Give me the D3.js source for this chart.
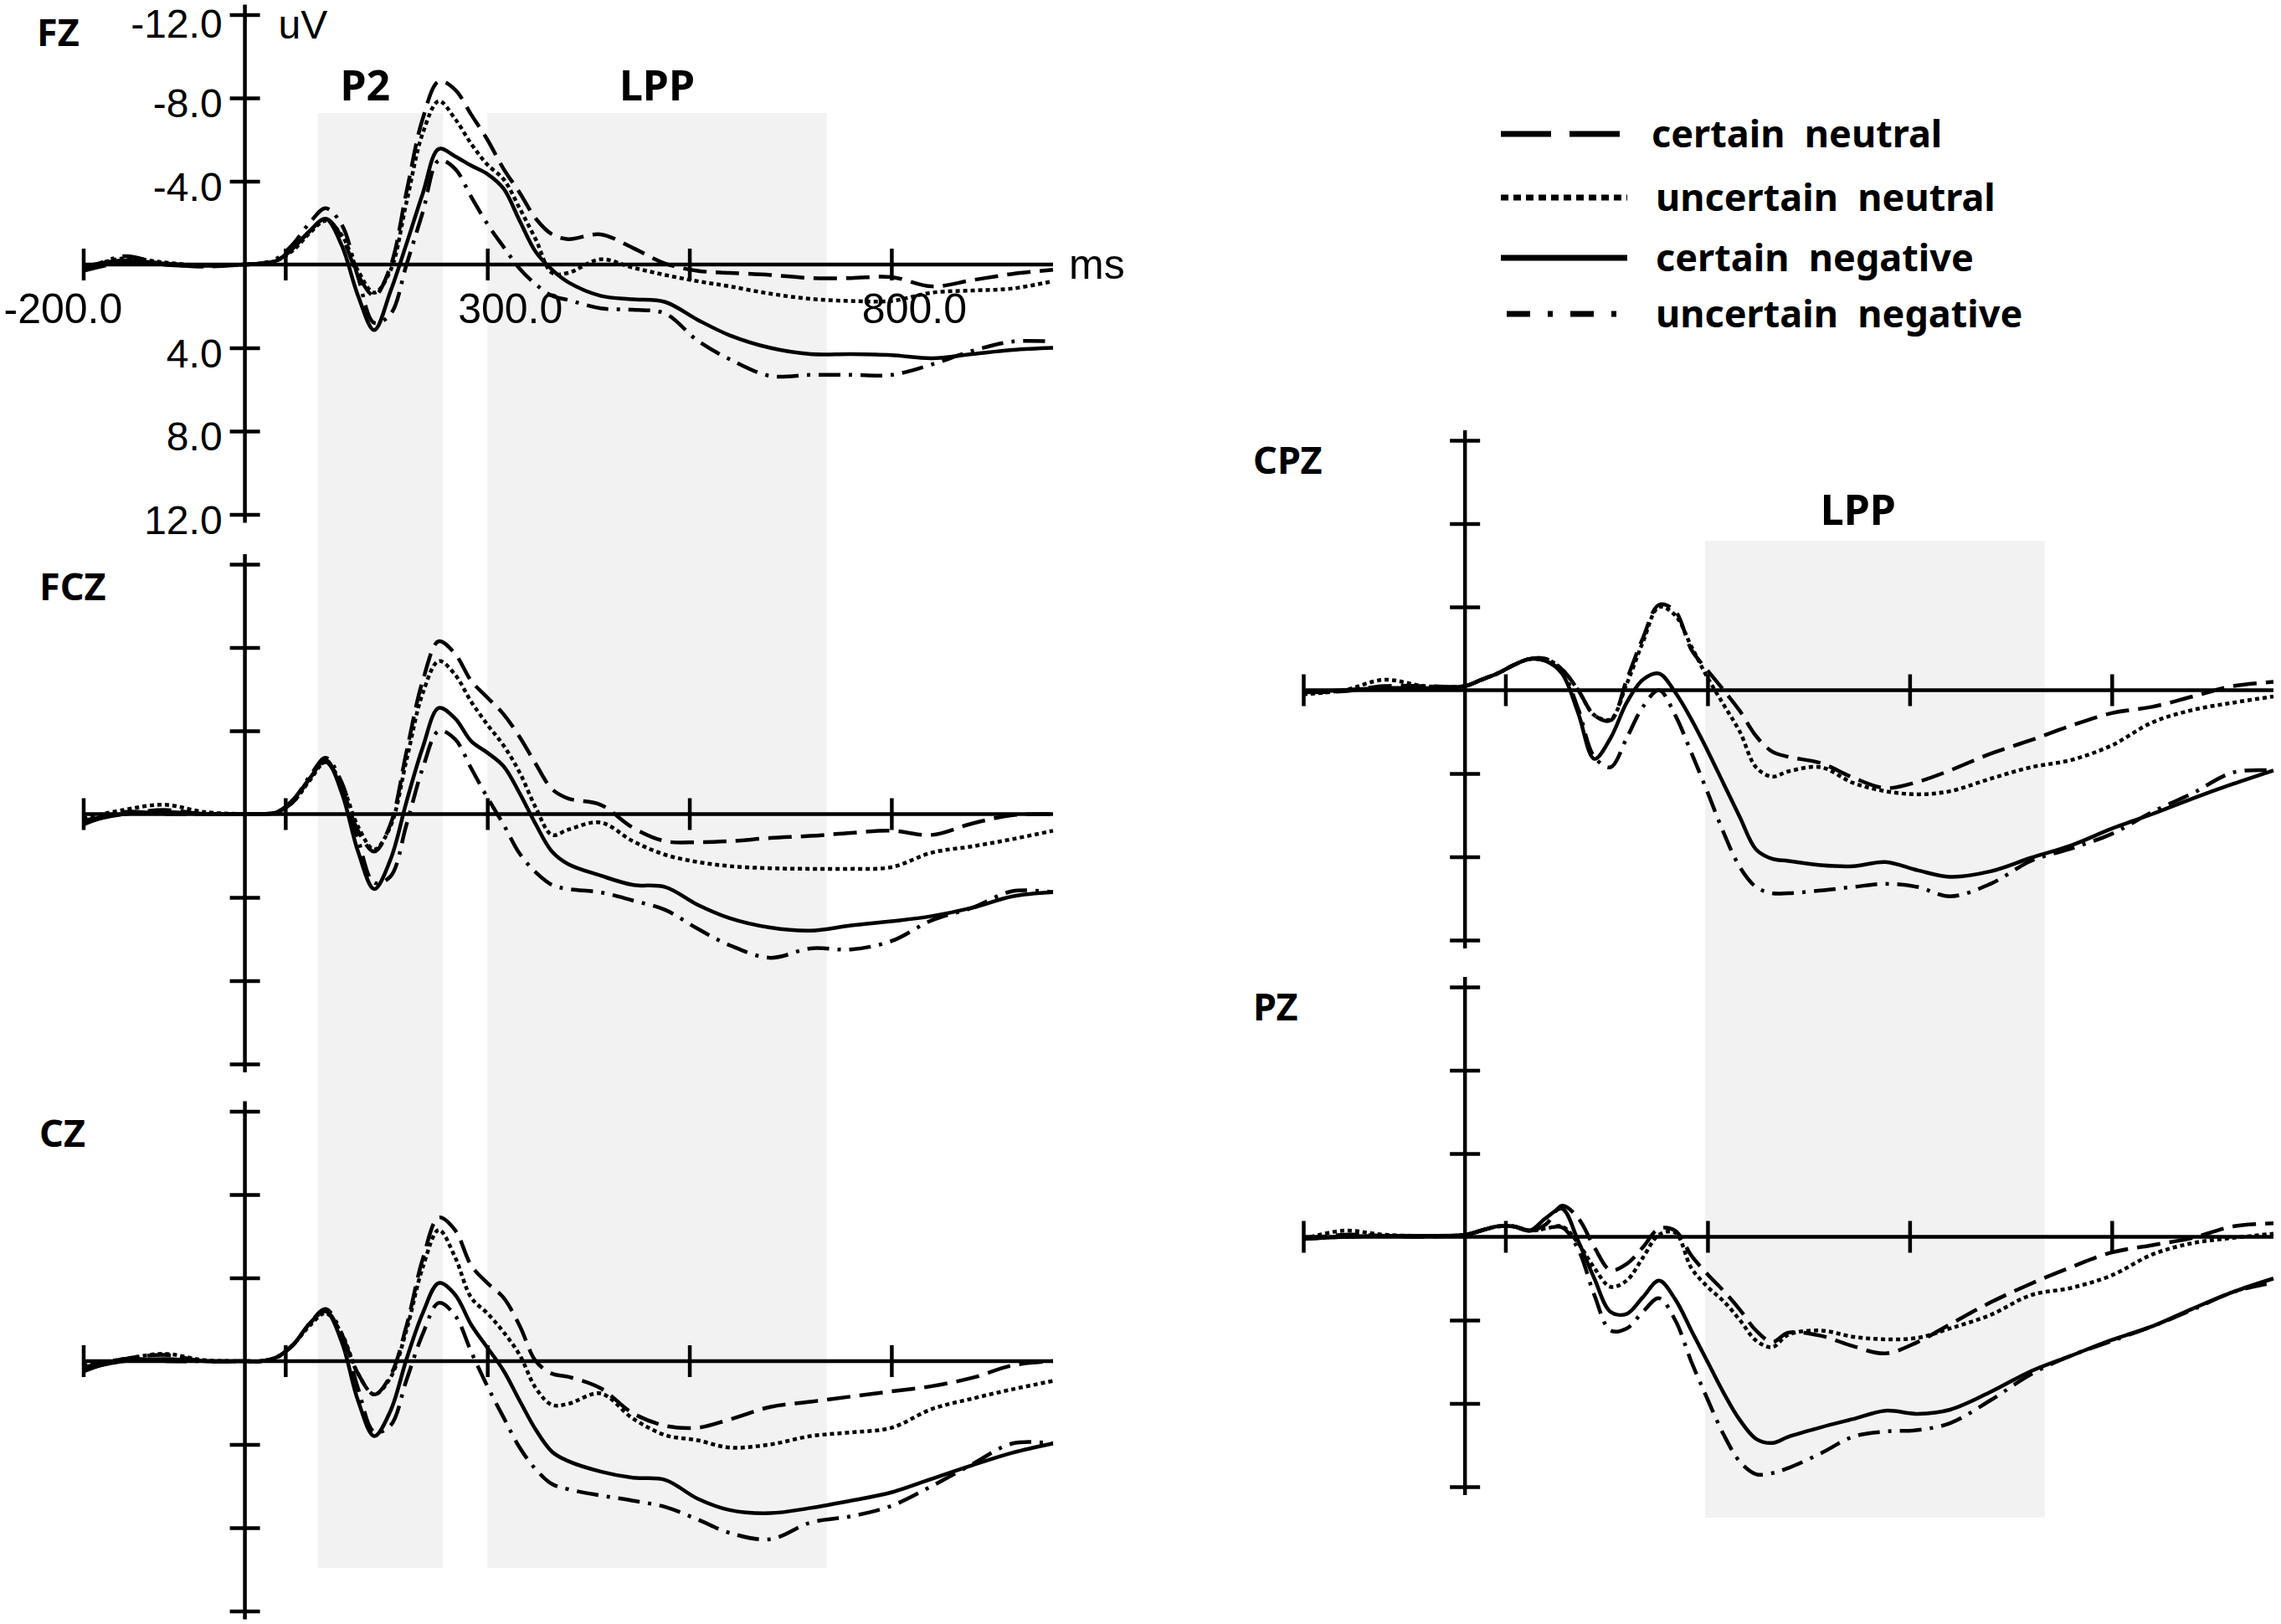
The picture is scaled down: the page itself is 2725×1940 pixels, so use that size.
<!DOCTYPE html>
<html>
<head>
<meta charset="utf-8">
<script src="https://cdn.jsdelivr.net/npm/d3@7"></script>
<style>
  body { margin: 0; background: #fff; }
  text { white-space: pre; }
</style>
</head>
<body>
<div id="chart"></div>
<script>
// sample times (ms)
const times = [-200, -150, -100, -50, 0, 20, 40, 60, 80, 100, 120, 140, 160, 180, 200, 220, 240, 260, 280,
  300, 320, 340, 360, 380, 400, 440, 480, 520, 560, 600, 650, 700, 750, 800, 850, 900, 950, 1000];

// amplitudes in uV (negative is drawn up)
const fzCertNeu = [0.3, -0.1, 0, 0.1, 0, -0.05, -0.2, -0.8, -1.6, -2.2, -1.3, 0.5, 1.5, 0.1, -3.5, -7.0, -8.8, -8.4, -7.2,
  -6.0, -4.6, -3.45, -2.2, -1.45, -1.22, -1.45, -0.8, -0.05, 0.3, 0.4, 0.5, 0.65, 0.65, 0.6, 1.05, 0.75, 0.45, 0.25];
const fzUncNeu = [0.2, -0.3, -0.1, 0.05, 0, -0.05, -0.2, -0.7, -1.5, -2.1, -1.4, 0.3, 1.35, 0.3, -3.0, -6.3, -7.85, -7.0, -5.8,
  -4.8, -4.1, -2.7, -1.2, 0.4, 0.4, -0.25, 0.15, 0.5, 0.8, 1.05, 1.4, 1.65, 1.75, 1.75, 1.35, 1.25, 1.15, 0.8];
const fzCertNeg = [0.1, -0.2, -0.05, 0.05, 0, -0.05, -0.2, -0.8, -1.6, -2.2, -0.9, 1.5, 3.15, 1.3, -1.0, -3.4, -5.55, -5.2, -4.75,
  -4.35, -3.65, -2.1, -0.6, 0.25, 0.85, 1.5, 1.67, 1.8, 2.65, 3.4, 4.0, 4.3, 4.3, 4.35, 4.5, 4.3, 4.1, 4.0];
const fzUncNeg = [0.3, -0.4, 0, 0.05, 0, -0.05, -0.3, -1.0, -2.0, -2.7, -1.9, 0.6, 2.8, 2.4, 0, -2.5, -5.0, -4.6, -3.25,
  -1.95, -0.85, 0.2, 0.95, 1.5, 1.7, 2.1, 2.17, 2.35, 3.65, 4.55, 5.35, 5.3, 5.3, 5.3, 4.8, 4.15, 3.7, 3.7];

const fczCertNeu = [0.3, 0, -0.2, 0, 0, 0, -0.1, -0.6, -1.7, -2.5, -1.2, 0.8, 1.8, 0.5, -3.0, -6.4, -8.3, -7.7, -6.4,
  -5.6, -4.8, -3.7, -2.4, -1.2, -0.75, -0.45, 0.65, 1.3, 1.35, 1.3, 1.15, 1.05, 0.9, 0.8, 1.0, 0.45, 0.05, 0];
const fczUncNeu = [0.2, -0.2, -0.45, -0.1, 0, 0, -0.1, -0.6, -1.6, -2.5, -1.4, 0.6, 1.7, 0.6, -2.6, -5.8, -7.35, -6.7, -5.4,
  -4.3, -3.3, -2.0, -0.3, 1.0, 0.75, 0.4, 1.3, 1.95, 2.3, 2.5, 2.6, 2.63, 2.63, 2.55, 1.85, 1.55, 1.2, 0.8];
const fczCertNeg = [0.4, 0, -0.1, 0, 0, 0, -0.1, -0.7, -1.7, -2.6, -1.0, 1.8, 3.6, 2.2, -0.6, -3.2, -5.1, -4.6, -3.5,
  -2.95, -2.3, -1.0, 0.5, 1.8, 2.4, 2.95, 3.4, 3.5, 4.35, 5.0, 5.45, 5.6, 5.35, 5.15, 4.9, 4.5, 3.95, 3.75];
const fczUncNeg = [0.5, -0.1, 0, 0, 0, 0, -0.1, -0.7, -1.8, -2.7, -1.5, 1.2, 3.3, 3.0, 0.5, -2.2, -4.0, -3.6, -2.2,
  -0.8, 0.5, 1.9, 2.8, 3.4, 3.6, 3.76, 4.15, 4.6, 5.5, 6.3, 6.9, 6.45, 6.5, 6.1, 5.1, 4.5, 3.7, 3.75];

const czCertNeu = [0.3, -0.1, -0.3, 0, 0, 0, -0.2, -0.8, -1.8, -2.4, -1.2, 0.6, 1.6, 0.7, -1.7, -4.9, -6.9, -6.3, -4.6,
  -3.75, -3.05, -1.7, 0, 0.6, 0.75, 1.3, 2.5, 3.1, 3.2, 2.8, 2.2, 1.95, 1.7, 1.45, 1.2, 0.8, 0.2, 0];
const czUncNeu = [0.2, -0.1, -0.35, -0.05, 0, 0, -0.2, -0.8, -1.7, -2.3, -1.3, 0.6, 1.6, 0.8, -1.5, -4.5, -6.3, -5.0, -3.05,
  -2.3, -1.4, -0.3, 1.3, 2.1, 2.05, 1.55, 2.75, 3.55, 3.8, 4.15, 4.0, 3.6, 3.42, 3.2, 2.3, 1.8, 1.35, 0.95];
const czCertNeg = [0.4, 0, -0.1, 0, 0, 0, -0.2, -0.8, -1.8, -2.4, -0.9, 1.9, 3.6, 2.4, -0.1, -2.3, -3.75, -3.2, -1.75,
  -0.65, 0.45, 1.9, 3.3, 4.35, 4.8, 5.3, 5.6, 5.7, 6.6, 7.15, 7.3, 7.05, 6.7, 6.3, 5.65, 5.0, 4.4, 3.95];
const czUncNeg = [0.5, -0.1, 0, 0, 0, 0, -0.2, -0.8, -1.8, -2.5, -1.3, 1.3, 3.4, 3.1, 0.9, -1.3, -2.8, -2.2, -0.45,
  1.2, 2.7, 4.15, 5.2, 5.9, 6.15, 6.45, 6.7, 7.0, 7.6, 8.25, 8.55, 7.75, 7.45, 6.95, 6.0, 4.95, 3.95, 3.95];

const cpzCertNeu = [0.1, 0.05, -0.2, -0.2, -0.2, -0.5, -0.8, -1.2, -1.5, -1.5, -1.0, 0, 1.2, 1.45, -0.5, -2.5, -4.1, -3.8, -1.95,
  -0.95, 0, 1.0, 2.2, 2.95, 3.2, 3.5, 4.2, 4.7, 4.4, 3.85, 3.05, 2.4, 1.7, 1.1, 0.8, 0.3, -0.2, -0.4];
const cpzUncNeu = [0.2, 0, -0.5, -0.2, -0.2, -0.5, -0.8, -1.2, -1.5, -1.5, -1.0, 0, 1.2, 1.4, -0.3, -2.3, -4.0, -3.6, -2.1,
  -0.6, 0.7, 2.0, 3.7, 4.15, 3.9, 3.7, 4.45, 4.85, 5.0, 4.85, 4.25, 3.7, 3.35, 2.65, 1.55, 0.95, 0.6, 0.3];
const cpzCertNeg = [0.1, 0, -0.1, -0.1, -0.2, -0.5, -0.8, -1.2, -1.5, -1.4, -0.8, 1.1, 3.3, 2.3, 0.6, -0.5, -0.8, 0.1, 1.4,
  2.9, 4.5, 6.1, 7.65, 8.1, 8.2, 8.4, 8.45, 8.25, 8.65, 8.96, 8.7, 8.05, 7.45, 6.65, 5.95, 5.2, 4.5, 3.85];
const cpzUncNeg = [0.1, 0, -0.1, -0.1, -0.2, -0.5, -0.8, -1.2, -1.5, -1.4, -0.9, 0.9, 3.2, 3.7, 2.3, 0.8, 0, 1.2, 3.0,
  4.9, 6.85, 8.5, 9.45, 9.75, 9.75, 9.62, 9.45, 9.3, 9.45, 9.9, 9.3, 8.2, 7.6, 6.9, 5.85, 4.95, 3.95, 3.85];

const pzCertNeu = [0.1, -0.1, -0.05, 0, -0.1, -0.3, -0.5, -0.5, -0.3, -0.6, -1.5, -0.9, 0.5, 1.6, 1.3, 0.5, -0.4, -0.3, 0.9,
  1.8, 2.6, 3.5, 4.5, 5.05, 4.6, 4.75, 5.25, 5.6, 5.05, 4.2, 3.15, 2.25, 1.45, 0.75, 0.4, 0.05, -0.5, -0.65];
const pzUncNeu = [0.1, -0.3, -0.1, -0.05, -0.1, -0.3, -0.5, -0.5, -0.3, -0.4, -0.5, 0.3, 1.5, 2.4, 2.1, 1.0, -0.1, -0.2, 1.5,
  2.4, 3.1, 4.0, 4.98, 5.3, 4.7, 4.5, 4.8, 4.92, 4.85, 4.4, 3.75, 2.8, 2.45, 1.85, 0.85, 0.3, 0.05, -0.15];
const pzCertNeg = [0.1, 0, -0.05, -0.05, -0.1, -0.3, -0.5, -0.5, -0.3, -0.9, -1.35, 0.2, 2.0, 3.6, 3.7, 2.9, 2.1, 3.0, 4.5,
  6.0, 7.5, 8.8, 9.7, 9.9, 9.6, 9.15, 8.75, 8.35, 8.5, 8.3, 7.45, 6.45, 5.7, 4.95, 4.3, 3.45, 2.65, 2.0];
const pzUncNeg = [0.1, 0, -0.05, -0.05, -0.1, -0.3, -0.5, -0.5, -0.3, -0.4, -0.45, 0.6, 2.8, 4.5, 4.4, 3.6, 2.95, 4.0, 6.0,
  7.8, 9.5, 10.8, 11.4, 11.35, 11.1, 10.4, 9.6, 9.35, 9.28, 8.95, 7.85, 6.6, 5.7, 5.0, 4.3, 3.5, 2.65, 2.2];

const seriesNames = ["certain  neutral", "uncertain  neutral", "certain  negative", "uncertain  negative"];
const yTicks = [-12, -8, -4, 4, 8, 12];
const xTicks = [-200, 50, 300, 550, 800];
const xLabelTicks = [-200, 300, 800];
const p2Window = [90, 245];
const lppLeft = [300, 720];
const lppRight = [297, 717];

const W = 2725, H = 1940;
const numFont = "'Liberation Sans', Arial, sans-serif";
const boldFont = "'Noto Sans', 'Open Sans', sans-serif";
const dashes = ["28,11", "5,4", null, "26,10,4,10"];
const legendDashes = ["60,22", "9,6", null, "28,21,6,21"];

const svg = d3.select("#chart").append("svg")
    .attr("width", W)
    .attr("height", H);

const xLeft = d3.scaleLinear().domain([-200, 1000]).range([99.5, 1258]);
const xRight = d3.scaleLinear().domain([-200, 1000]).range([1557, 2716]);

const panels = [
    {name: "FZ", x: xLeft, zero: 316, label: [44, 55], data: [fzCertNeu, fzUncNeu, fzCertNeg, fzUncNeg], ticks: true},
    {name: "FCZ", x: xLeft, zero: 972.5, label: [47, 717], data: [fczCertNeu, fczUncNeu, fczCertNeg, fczUncNeg]},
    {name: "CZ", x: xLeft, zero: 1626, label: [47, 1370], data: [czCertNeu, czUncNeu, czCertNeg, czUncNeg]},
    {name: "CPZ", x: xRight, zero: 824.5, label: [1497, 566], data: [cpzCertNeu, cpzUncNeu, cpzCertNeg, cpzUncNeg]},
    {name: "PZ", x: xRight, zero: 1477.5, label: [1497, 1219], data: [pzCertNeu, pzUncNeu, pzCertNeg, pzUncNeg]}
];

// shaded time windows
const shade = svg.append("g").attr("fill", "#f2f2f2");
[p2Window, lppLeft].forEach(w => {
    shade.append("rect")
        .attr("x", xLeft(w[0])).attr("width", xLeft(w[1]) - xLeft(w[0]))
        .attr("y", 135).attr("height", 1873 - 135);
});
shade.append("rect")
    .attr("x", xRight(lppRight[0])).attr("width", xRight(lppRight[1]) - xRight(lppRight[0]))
    .attr("y", 646).attr("height", 1813 - 646);

// window labels
const winLabel = (txt, x, y) => svg.append("text").text(txt)
    .attr("x", x).attr("y", y).attr("text-anchor", "middle")
    .attr("font-family", boldFont).attr("font-weight", "bold").attr("font-size", 50);
winLabel("P2", d3.mean(p2Window.map(xLeft)) - 18, 120);
winLabel("LPP", d3.mean(lppLeft.map(xLeft)), 120);
winLabel("LPP", d3.mean(lppRight.map(xRight)) - 20, 627);

panels.forEach(p => {
    const y = d3.scaleLinear().domain([-12, 12]).range([p.zero - 298.5, p.zero + 298.5]);
    const x = p.x;
    const g = svg.append("g");

    // y axis
    const gy = g.append("g")
        .attr("transform", `translate(${x(0)},0)`)
        .call(d3.axisLeft(y).tickValues(yTicks).tickSizeOuter(0)
            .tickFormat(p.ticks ? d => d.toFixed(1) : ""));
    gy.select(".domain").remove();
    gy.selectAll(".tick line").attr("x1", -18).attr("x2", 18)
        .attr("stroke", "#000").attr("stroke-width", 4.5);
    gy.selectAll(".tick text").attr("x", -27).attr("dy", d => d === -12 ? "0.56em" : "0.47em")
        .attr("font-family", numFont).attr("font-size", 48).attr("fill", "#000");
    g.append("line")
        .attr("x1", x(0)).attr("x2", x(0))
        .attr("y1", y(-12) - 12).attr("y2", y(12) + 10)
        .attr("stroke", "#000").attr("stroke-width", 4.5);

    // x axis
    const gx = g.append("g")
        .attr("transform", `translate(0,${y(0)})`)
        .call(d3.axisBottom(x).tickValues(xTicks).tickSizeOuter(0)
            .tickFormat(d => p.ticks && xLabelTicks.includes(d) ? d.toFixed(1) : ""));
    gx.select(".domain").remove();
    gx.selectAll(".tick line").attr("y1", -19).attr("y2", 19)
        .attr("stroke", "#000").attr("stroke-width", 4.5);
    gx.selectAll(".tick text").attr("y", 70).attr("dy", 0).attr("x", 27)
        .attr("font-family", numFont).attr("font-size", 50).attr("fill", "#000")
        .filter(d => d === -200)
        .attr("text-anchor", "start").attr("x", 4 - x(-200));
    g.append("line")
        .attr("x1", x(-200)).attr("x2", x(1000))
        .attr("y1", y(0)).attr("y2", y(0))
        .attr("stroke", "#000").attr("stroke-width", 4.5);

    if (p.ticks) {
        g.append("text").text("uV").attr("x", x(0) + 40).attr("y", 46)
            .attr("font-family", numFont).attr("font-size", 48);
        g.append("text").text("ms").attr("x", x(1000) + 19).attr("y", y(0) + 17)
            .attr("font-family", numFont).attr("font-size", 50);
    }

    // electrode name
    g.append("text").text(p.name)
        .attr("x", p.label[0]).attr("y", p.label[1])
        .attr("font-family", boldFont).attr("font-weight", "bold").attr("font-size", 45);

    // waveforms
    const line = d3.line()
        .x((d, i) => x(times[i]))
        .y(d => y(d))
        .curve(d3.curveCatmullRom.alpha(0.5));
    p.data.forEach((vals, k) => {
        g.append("path")
            .datum(vals)
            .attr("d", line)
            .attr("fill", "none")
            .attr("stroke", "#000")
            .attr("stroke-width", 4.5)
            .attr("stroke-linejoin", "round")
            .attr("stroke-dasharray", dashes[k]);
    });
});

// legend
const legendY = [160, 236, 308, 375];
const legend = svg.append("g");
seriesNames.forEach((name, k) => {
    legend.append("line")
        .attr("x1", k === 3 ? 1800 : 1793).attr("x2", k === 0 ? 1935 : 1944)
        .attr("y1", legendY[k]).attr("y2", legendY[k])
        .attr("stroke", "#000").attr("stroke-width", 7)
        .attr("stroke-dasharray", legendDashes[k]);
    legend.append("text").text(name)
        .attr("x", k === 0 ? 1973 : 1978).attr("y", legendY[k] + 16)
        .attr("font-family", boldFont).attr("font-weight", "bold").attr("font-size", 45);
});
</script>
</body>
</html>
